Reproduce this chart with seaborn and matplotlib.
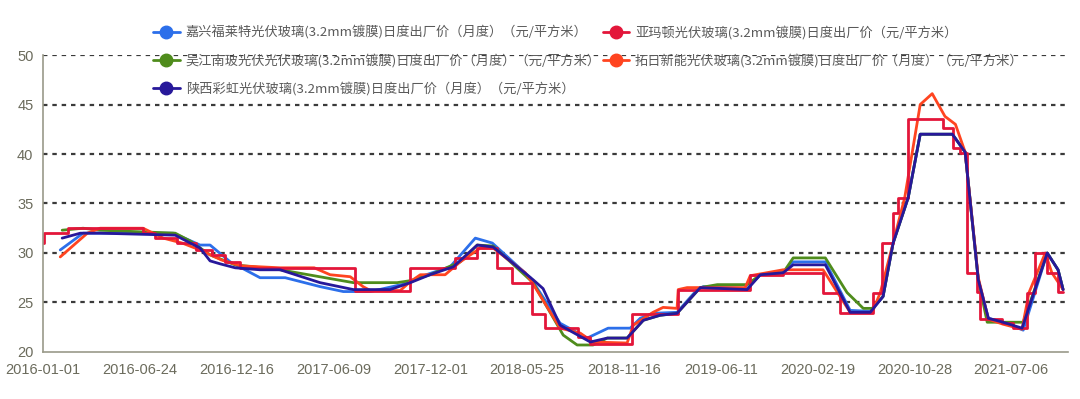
import seaborn as sns
import matplotlib.pyplot as plt
from matplotlib.lines import Line2D

# category axis: one tick every 25 points
TICK_LABELS = ['2016-01-01', '2016-06-24', '2016-12-16', '2017-06-09', '2017-12-01',
               '2018-05-25', '2018-11-16', '2019-06-11', '2020-02-19', '2020-10-28',
               '2021-07-06']

# 嘉兴福莱特 (月度)
fulai_x = [4.4, 10.3, 33.6, 40.5, 43.1, 48.3, 56.0, 62.5, 71.5, 77.5, 84.5, 94.8, 97.4,
           105.1, 111.6, 116.0, 125.8, 133.5, 140.5, 145.9, 151.6, 154.2, 157.5, 163.7,
           168.9, 170.5, 181.8, 185.2, 191.1, 193.7, 202.0, 208.4, 213.6, 216.9, 219.5,
           223.4, 226.5, 234.8, 238.1, 241.5, 244.1, 247.9, 253.1, 259.3, 262.1, 263.4]
fulai_y = [30.3, 32.0, 32.0, 30.8, 30.8, 29.1, 27.5, 27.5, 26.6, 26.1, 26.1, 27.0, 27.6,
           28.6, 31.5, 31.0, 27.5, 22.9, 21.4, 22.4, 22.4, 23.4, 23.9, 24.0,
           26.3, 26.6, 26.4, 27.8, 28.0, 29.1, 29.1, 24.2, 24.1, 25.6, 31.0,
           35.6, 42.0, 42.0, 40.2, 27.3, 23.4, 23.0, 22.2, 30.0, 28.3, 26.3]

# 吴江南玻 (月度)
nanbo_x = [4.9, 10.3, 14.7, 34.1, 38.0, 43.1, 49.6, 61.2, 80.1, 91.4, 94.8, 99.9, 107.7,
           112.1, 116.2, 126.5, 134.3, 137.9, 142.0, 145.7, 150.8, 155.0, 159.3, 163.7,
           169.7, 174.1, 181.8, 185.2, 191.1, 193.7, 202.0, 207.6, 211.8, 214.1, 216.9,
           219.5, 223.4, 226.5, 234.8, 238.1, 241.5, 243.8, 253.1, 259.3, 262.1, 263.4]
nanbo_y = [32.3, 32.5, 32.3, 32.0, 31.2, 29.8, 28.8, 28.3, 27.0, 27.0, 27.2, 27.8, 29.1,
           30.8, 30.7, 27.0, 21.7, 20.7, 20.7, 21.4, 21.4, 23.2, 23.7, 23.9,
           26.5, 26.8, 26.8, 27.8, 28.0, 29.5, 29.5, 26.0, 24.4, 24.4, 25.6,
           31.0, 35.6, 42.0, 42.0, 40.2, 27.3, 23.0, 23.0, 30.0, 28.3, 26.3]

# 拓日新能 (月度)
tuori_x = [4.4, 11.4, 14.7, 25.8, 28.4, 31.0, 35.9, 40.5, 46.0, 50.9, 61.2, 70.0, 74.1,
           79.3, 82.6, 84.5, 92.2, 94.8, 97.4, 103.8, 107.7, 112.9, 116.2, 124.5, 126.3,
           133.5, 138.7, 142.0, 150.8, 152.4, 157.5, 160.1, 163.7, 164.0, 166.3, 181.3,
           182.6, 191.1, 201.4, 208.4, 214.1, 216.2, 219.5, 222.5, 226.5, 229.6, 232.9,
           235.6, 238.1, 241.5, 244.1, 247.9, 252.8, 254.6, 258.8, 260.5, 263.4]
tuori_y = [29.6, 32.0, 32.5, 32.5, 32.0, 31.5, 31.0, 30.3, 29.3, 28.7, 28.5, 28.5, 27.8,
           27.6, 26.6, 26.2, 26.2, 27.1, 27.8, 27.8, 29.1, 30.5, 30.5, 28.0, 27.0,
           22.4, 21.9, 21.0, 20.9, 22.7, 24.0, 24.5, 24.4, 26.3, 26.5, 26.5,
           27.7, 28.3, 28.3, 24.0, 24.0, 26.0, 31.0, 35.6, 45.0, 46.1, 43.8,
           43.0, 40.2, 27.5, 23.3, 22.8, 22.3, 26.0, 30.0, 28.0, 26.3]

# 亚玛顿 (日度, drawn as steps)
yamaton_x = [0.0, 0.2, 6.5, 25.8, 29.0, 34.5, 39.5, 43.5, 47.0, 50.9, 80.6, 94.8, 106.4,
             112.1, 117.2, 121.1, 126.3, 129.6, 138.2, 141.3, 152.1, 164.0, 182.6, 191.1,
             201.4, 205.8, 214.4, 216.7, 219.5, 220.8, 223.4, 232.4, 235.0, 236.8, 238.6,
             241.2, 242.0, 247.7, 250.5, 254.1, 256.2, 259.3, 262.1, 263.4]
yamaton_y = [31.0, 32.0, 32.5, 32.0, 31.5, 31.0, 30.3, 29.8, 29.1, 28.5, 26.2, 28.5, 29.5,
             30.5, 28.5, 27.0, 23.8, 22.4, 21.5, 20.8, 23.8, 26.3, 27.8, 28.0,
             26.0, 23.9, 26.0, 31.0, 34.0, 35.6, 43.5, 42.6, 40.6, 40.1, 28.0,
             26.1, 23.3, 22.9, 22.4, 26.0, 30.0, 28.0, 26.1, 26.1]

# 陕西彩虹 (月度)
caihong_x = [4.9, 9.6, 14.7, 34.1, 38.0, 40.5, 43.1, 45.7, 49.6, 56.0, 61.2, 71.5, 80.1,
             89.6, 94.8, 99.9, 105.9, 112.1, 116.2, 126.5, 129.1, 133.5, 141.3, 145.7,
             150.8, 155.0, 159.3, 163.7, 169.7, 181.8, 185.2, 191.1, 193.7, 202.0, 208.4,
             213.6, 216.9, 219.5, 223.4, 226.5, 234.8, 238.1, 241.5, 244.1, 247.9, 252.8,
             259.3, 262.1, 263.4]
caihong_y = [31.5, 32.0, 32.0, 31.8, 31.0, 30.5, 29.2, 28.9, 28.5, 28.3, 28.3, 27.0, 26.3,
             26.3, 27.0, 27.8, 28.6, 30.8, 30.6, 27.3, 26.4, 22.7, 21.0, 21.4,
             21.4, 23.2, 23.7, 23.9, 26.5, 26.3, 27.8, 28.0, 28.8, 28.8, 24.0,
             24.0, 25.6, 31.0, 35.6, 42.0, 42.0, 40.2, 27.3, 23.4, 23.0, 22.4,
             30.0, 28.3, 26.3]

labels = ['嘉兴福莱特光伏玻璃(3.2mm镀膜)日度出厂价（月度）（元/平方米）',
          '亚玛顿光伏玻璃(3.2mm镀膜)日度出厂价（元/平方米）',
          '吴江南玻光伏光伏玻璃(3.2mm镀膜)日度出厂价（月度）（元/平方米）',
          '拓日新能光伏玻璃(3.2mm镀膜)日度出厂价（月度）（元/平方米）',
          '陕西彩虹光伏玻璃(3.2mm镀膜)日度出厂价（月度）（元/平方米）']
colors = ['#2c6fea', '#e3163a', '#4f8c1c', '#ff4420', '#27189a']


def main():
    sns.set_style('white')
    plt.rcParams['font.family'] = ['Noto Sans CJK SC', 'DejaVu Sans']

    fig = plt.figure(figsize=(10.8, 3.99), dpi=100)
    ax = fig.add_axes([0.040, 0.118, 0.949, 0.744])

    lw = 2.0
    sns.lineplot(x=fulai_x, y=fulai_y, ax=ax, color=colors[0], lw=lw, errorbar=None)
    sns.lineplot(x=nanbo_x, y=nanbo_y, ax=ax, color=colors[2], lw=lw, errorbar=None)
    sns.lineplot(x=tuori_x, y=tuori_y, ax=ax, color=colors[3], lw=lw, errorbar=None)
    sns.lineplot(x=yamaton_x, y=yamaton_y, ax=ax, color=colors[1], lw=lw, errorbar=None,
                 drawstyle='steps-post')
    sns.lineplot(x=caihong_x, y=caihong_y, ax=ax, color=colors[4], lw=lw, errorbar=None)

    # axes
    ax.set_xlim(0, 264.7)
    ax.set_ylim(20, 50)
    ax.set_yticks(range(20, 51, 5))
    ax.set_xticks([i * 25 for i in range(len(TICK_LABELS))])
    ax.set_xticklabels(TICK_LABELS)
    ax.set_xticks([264.7], minor=True)
    for y in range(25, 51, 5):
        ax.axhline(y, color='#3a3a3a', lw=1.6, ls=(0, (2, 2.2)), zorder=0)
    for s in ['top', 'right']:
        ax.spines[s].set_visible(False)
    for s in ['left', 'bottom']:
        ax.spines[s].set_color('#9a9a8a')
        ax.spines[s].set_linewidth(1.2)
    ax.tick_params(axis='both', which='both', direction='out', length=4, width=1.2,
                   color='#9a9a8a', labelcolor='#6b6b5c', labelsize=10.5)
    ax.tick_params(axis='x', pad=4)
    ax.tick_params(axis='y', pad=3)
    for t in ax.get_xticklabels() + ax.get_yticklabels():
        t.set_family(['Liberation Sans Narrow', 'Liberation Sans', 'DejaVu Sans'])
    ax.set_xlabel('')
    ax.set_ylabel('')

    # legend: rows [福莱特, 亚玛顿], [南玻, 拓日], [彩虹]
    order = [0, 2, 4, 1, 3]
    handles = [Line2D([0], [0], color=colors[i], lw=lw, marker='o', markersize=9)
               for i in order]
    fig.legend(handles, [labels[i] for i in order], ncol=2, loc='upper left',
               bbox_to_anchor=(0.137, 0.95), frameon=False, fontsize=9.5,
               labelcolor='#5a5a5a', handlelength=2.0, handletextpad=0.45,
               columnspacing=0.15, labelspacing=1.07, borderaxespad=0)

    fig.savefig('out.png', dpi=100)


if __name__ == '__main__':
    main()
